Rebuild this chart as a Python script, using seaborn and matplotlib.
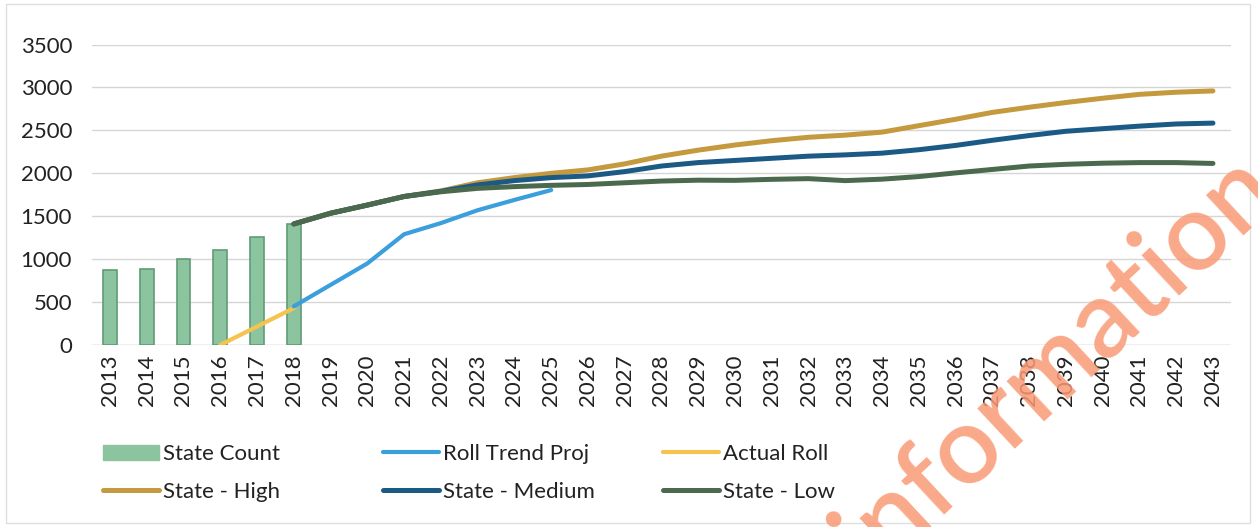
import matplotlib
matplotlib.use("Agg")
import matplotlib.pyplot as plt
from matplotlib.lines import Line2D
from matplotlib.patches import Patch, Rectangle
import seaborn as sns
import pandas as pd

# ---- data ----
years = list(range(2013, 2044))

count_years = [2013, 2014, 2015, 2016, 2017, 2018]
state_count = [870, 890, 1000, 1110, 1260, 1410]

actual_years = [2016, 2017, 2018]
actual_roll = [0, 215, 430]

trend_years = [2018, 2019, 2020, 2021, 2022, 2023, 2024, 2025]
roll_trend_proj = [450, 700, 950, 1290, 1420, 1570, 1690, 1805]

proj_years = list(range(2018, 2044))
state_high = [1410, 1535, 1630, 1730, 1795, 1890, 1950, 2000, 2040, 2110,
              2200, 2270, 2330, 2380, 2420, 2445, 2480, 2555, 2630, 2710,
              2770, 2825, 2875, 2920, 2945, 2960]
state_medium = [1410, 1535, 1630, 1730, 1790, 1865, 1915, 1950, 1970, 2020,
                2085, 2125, 2150, 2175, 2200, 2215, 2235, 2275, 2325, 2385,
                2440, 2490, 2520, 2550, 2575, 2585]
state_low = [1410, 1535, 1630, 1730, 1785, 1825, 1845, 1860, 1870, 1890,
             1910, 1920, 1918, 1930, 1938, 1915, 1932, 1962, 2005, 2045,
             2085, 2105, 2118, 2125, 2125, 2115]

y_ticks = [0, 500, 1000, 1500, 2000, 2500, 3000, 3500]

# ---- style ----
sns.set_theme(style="white")
plt.rcParams["font.family"] = ["Lato", "DejaVu Sans"]

C_BAR = "#8dc4a0"
C_BAR_EDGE = "#5f9c74"
C_TREND = "#3a9fdc"
C_ACTUAL = "#f4c350"
C_HIGH = "#c59a3e"
C_MED = "#1c5a86"
C_LOW = "#4b6a4d"
C_TEXT = "#222222"
FS = 16

fig = plt.figure(figsize=(12.58, 5.27), dpi=100)
ax = fig.add_axes([0.0728, 0.3454, 0.9060, 0.5700])

bars = pd.DataFrame({"year": count_years, "count": state_count})
sns.barplot(data=bars, x="year", y="count", native_scale=True, width=0.38,
            color=C_BAR, saturation=1, edgecolor=C_BAR_EDGE, linewidth=1.2,
            ax=ax, zorder=2)

def draw_line(xs, ys, color, lw):
    sns.lineplot(x=xs, y=ys, color=color, linewidth=lw, ax=ax, zorder=3,
                 solid_capstyle="round", solid_joinstyle="round")

draw_line(actual_years, actual_roll, C_ACTUAL, 3.0)
draw_line(trend_years, roll_trend_proj, C_TREND, 3.0)
draw_line(proj_years, state_high, C_HIGH, 3.6)
draw_line(proj_years, state_medium, C_MED, 3.6)
draw_line(proj_years, state_low, C_LOW, 3.6)

ax.set_xlim(2012.5, 2043.5)
ax.set_ylim(0, 3500)
ax.set_xticks(years)
ax.set_xticklabels([str(y) for y in years], rotation=90, fontsize=FS,
                   color=C_TEXT)
ax.set_yticks(y_ticks)
ax.set_yticklabels([str(v) for v in y_ticks], fontsize=FS, color=C_TEXT)
ax.tick_params(axis="x", length=0, pad=7)
ax.tick_params(axis="y", length=0, pad=14)
ax.set_xlabel("")
ax.set_ylabel("")
ax.yaxis.grid(True, color="#d6d6d6", linewidth=1.0, zorder=0)
ax.xaxis.grid(False)
for s in ax.spines.values():
    s.set_visible(False)
ax.axhline(0, color="#cfcfcf", linewidth=1.0, zorder=1)

# ---- legend: three columns, two rows ----
def h_line(color, lw):
    return Line2D([0], [0], color=color, linewidth=lw, solid_capstyle="round")

legend_cols = [
    (103, [Patch(facecolor=C_BAR, edgecolor=C_BAR), h_line(C_HIGH, 3.6)],
     ["State Count", "State - High"]),
    (383, [h_line(C_TREND, 3.0), h_line(C_MED, 3.6)],
     ["Roll Trend Proj", "State - Medium"]),
    (663, [h_line(C_ACTUAL, 3.0), h_line(C_LOW, 3.6)],
     ["Actual Roll", "State - Low"]),
]
W, H = 1258, 527
for x_px, handles, labels in legend_cols:
    leg = fig.legend(handles, labels, loc="center left",
                     bbox_to_anchor=(x_px / W, 1 - 473 / H),
                     frameon=False, fontsize=FS, handlelength=2.5,
                     handletextpad=0.2, labelspacing=0.8, borderpad=0,
                     borderaxespad=0)
    for t in leg.get_texts():
        t.set_color(C_TEXT)

# ---- watermark (anchored at the end of the word) ----
fig.text(1282 / W, 1 - 194 / H, "information", fontsize=78,
         fontweight="semibold", color="#f99a74", alpha=0.85,
         rotation=43, rotation_mode="anchor",
         ha="right", va="baseline", zorder=10)

# light frame around the chart area
fig.patches.append(Rectangle((6 / W, 4 / H), 1244 / W, 519 / H,
                             transform=fig.transFigure, fill=False,
                             edgecolor="#dedede", linewidth=1.0))

fig.savefig("out.png", dpi=100, facecolor="white")
